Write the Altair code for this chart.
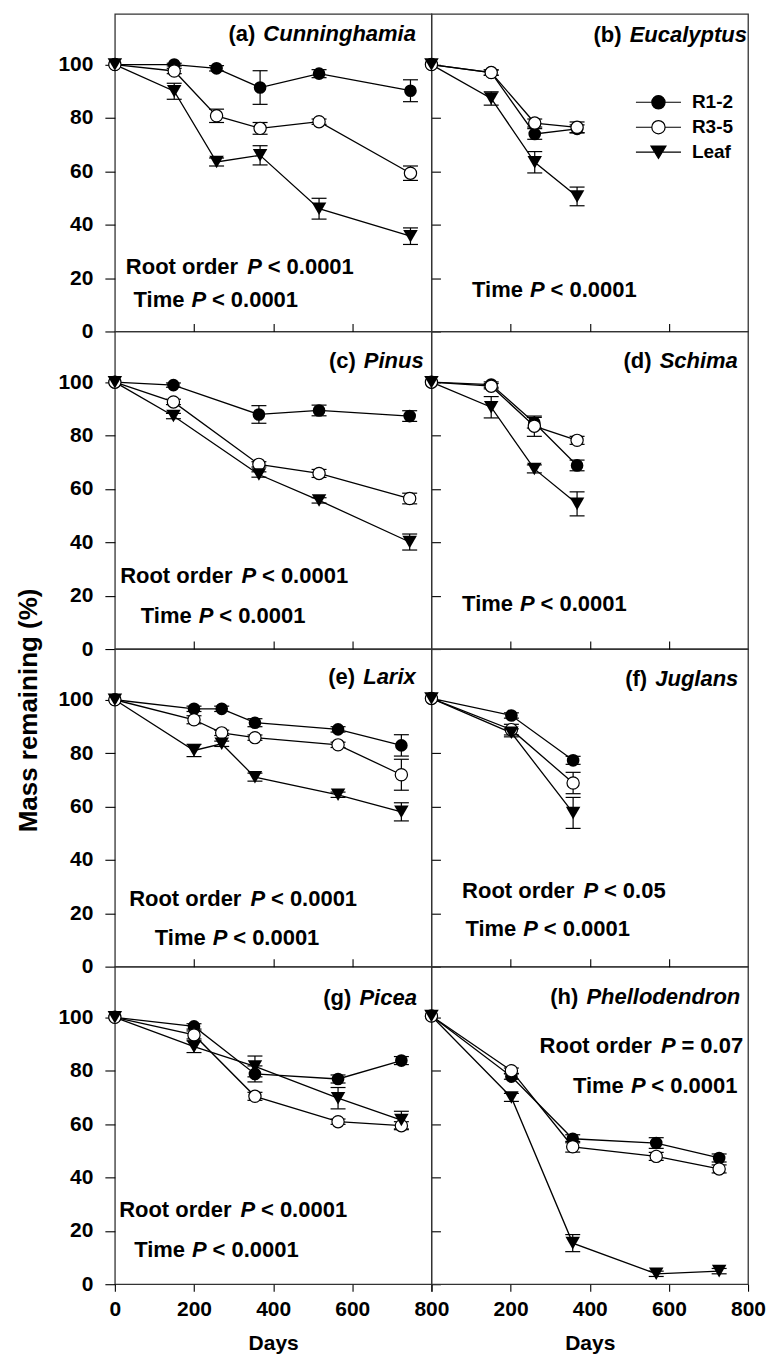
import altair as alt
import pandas as pd

FONT = "Liberation Sans"
SERIES = ["R1-2", "R3-5", "Leaf"]

# ---------------- data: days, mean mass remaining (%), SE ----------------
a_days = [0, 150, 257, 367, 516, 747]
a_r12 = [100, 100, 98.6, 91.4, 96.6, 90.2]
a_r12_se = [0, 0.5, 1.0, 6.3, 1.5, 4.1]
a_r35 = [100, 97.6, 80.8, 76.1, 78.6, 59.3]
a_r35_se = [0, 1.0, 2.5, 2.2, 1.0, 2.7]
a_leaf = [100, 90.0, 63.5, 66.0, 46.0, 35.7]
a_leaf_se = [0, 3.0, 1.5, 3.6, 3.9, 3.1]

b_days = [0, 151, 261, 368]
b_r12 = [100, 97.0, 74.0, 75.9]
b_r12_se = [0, 1.0, 2.0, 1.5]
b_r35 = [100, 97.0, 78.1, 76.5]
b_r35_se = [0, 1.0, 1.5, 2.0]
b_leaf = [100, 87.3, 63.4, 50.6]
b_leaf_se = [0, 2.5, 4.0, 3.5]

c_days = [0, 148, 364, 516, 745]
c_r12 = [100, 98.9, 87.9, 89.4, 87.3]
c_r12_se = [0, 0.8, 3.3, 2.0, 2.0]
c_r35 = [100, 92.6, 69.2, 65.8, 56.4]
c_r35_se = [0, 1.0, 1.0, 1.5, 2.0]
c_leaf = [100, 87.3, 65.4, 55.7, 40.1]
c_leaf_se = [0, 1.0, 1.0, 1.0, 3.0]

d_days = [0, 151, 260, 368]
d_r12 = [100, 99.1, 84.8, 68.8]
d_r12_se = [0, 1.0, 2.0, 2.0]
d_r35 = [100, 98.5, 83.5, 78.2]
d_r35_se = [0, 1.0, 3.8, 1.5]
d_leaf = [100, 90.6, 67.5, 54.4]
d_leaf_se = [0, 4.0, 1.5, 4.5]

e_days = [0, 200, 270, 354, 564, 724]
e_r12 = [100, 96.6, 96.6, 91.4, 88.9, 82.9]
e_r12_se = [0, 1.0, 1.0, 1.5, 1.0, 4.0]
e_r35 = [100, 92.5, 87.6, 85.8, 83.1, 71.9]
e_r35_se = [0, 1.5, 1.0, 1.0, 1.0, 5.8]
e_leaf = [100, 81.0, 83.5, 71.0, 64.4, 58.0]
e_leaf_se = [0, 2.3, 1.0, 1.5, 1.0, 3.4]

f_days = [0, 202, 358]
f_r12 = [100.5, 94.1, 77.3]
f_r12_se = [0, 1.0, 1.5]
f_r35 = [100.5, 88.8, 68.8]
f_r35_se = [0, 2.0, 4.0]
f_leaf = [100.5, 87.6, 57.6]
f_leaf_se = [0, 1.5, 5.8]

g_days = [0, 200, 354, 564, 724]
g_r12 = [100, 96.6, 78.8, 76.9, 83.8]
g_r12_se = [0, 1.0, 3.0, 1.5, 1.5]
g_r35 = [100, 93.4, 70.4, 60.9, 59.4]
g_r35_se = [0, 1.5, 1.5, 1.0, 1.5]
g_leaf = [100, 89.0, 81.6, 69.7, 61.5]
g_leaf_se = [0, 2.2, 3.9, 4.0, 3.3]

h_days = [0, 202, 357, 568, 727]
h_r12 = [100.5, 77.8, 54.5, 52.9, 47.3]
h_r12_se = [0, 1.0, 1.5, 2.0, 1.5]
h_r35 = [100.5, 80.0, 51.5, 47.9, 43.2]
h_r35_se = [0, 1.0, 2.0, 1.5, 1.5]
h_leaf = [100.5, 70.0, 15.4, 3.9, 4.9]
h_leaf_se = [0, 1.5, 3.2, 1.0, 1.0]

# ---------------- text ----------------
LETTERS = ["(a)", "(b)", "(c)", "(d)", "(e)", "(f)", "(g)", "(h)"]
SPECIES = ["Cunninghamia", "Eucalyptus", "Pinus", "Schima",
           "Larix", "Juglans", "Picea", "Phellodendron"]
ROOT_P = ["< 0.0001", None, "< 0.0001", None, "< 0.0001", "< 0.05", "< 0.0001", "= 0.07"]
TIME_P = ["< 0.0001"] * 8
X_TICKS = [0, 200, 400, 600, 800]
X_INNER = [200, 400, 600]
Y_TICKS = [0, 20, 40, 60, 80, 100]

# ---------------- layout (panel-relative pixels) ----------------
W, H = 317, 318
TITLE_POS = [(113.7, 27), (162.3, 28), (214.3, 37), (192.3, 37),
             (213.7, 35), (194, 37), (208.7, 38), (119, 37)]
ROOT_POS = [(11, 260.7), None, (5.3, 251.7), None,
            (14.3, 257.7), (30.7, 249.3), (4.3, 251), (108.3, 86)]
TIME_POS = [(18.7, 294), (40.7, 283), (26, 291.7), (30.7, 280),
            (40, 296), (34, 287), (19.3, 290.3), (141.7, 127)]
# bold glyph advance widths (em) used to space "(x) " before the species name
LETTER_EM = {"a": 0.556, "b": 0.611, "c": 0.556, "d": 0.611,
             "e": 0.556, "f": 0.333, "g": 0.611, "h": 0.611}

XS = alt.Scale(domain=[0, 800], nice=False, zero=False)
YS = alt.Scale(domain=[0, 119], nice=False, zero=False)


def make_df(days, r12, r12se, r35, r35se, leaf, leafse):
    rows = []
    for s, vals, ses in zip(SERIES, [r12, r35, leaf], [r12se, r35se, leafse]):
        for d, v, e in zip(days, vals, ses):
            rows.append({"day": d, "series": s, "val": v, "lo": v - e, "hi": v + e, "se": e})
    return pd.DataFrame(rows)


DFS = [
    make_df(a_days, a_r12, a_r12_se, a_r35, a_r35_se, a_leaf, a_leaf_se),
    make_df(b_days, b_r12, b_r12_se, b_r35, b_r35_se, b_leaf, b_leaf_se),
    make_df(c_days, c_r12, c_r12_se, c_r35, c_r35_se, c_leaf, c_leaf_se),
    make_df(d_days, d_r12, d_r12_se, d_r35, d_r35_se, d_leaf, d_leaf_se),
    make_df(e_days, e_r12, e_r12_se, e_r35, e_r35_se, e_leaf, e_leaf_se),
    make_df(f_days, f_r12, f_r12_se, f_r35, f_r35_se, f_leaf, f_leaf_se),
    make_df(g_days, g_r12, g_r12_se, g_r35, g_r35_se, g_leaf, g_leaf_se),
    make_df(h_days, h_r12, h_r12_se, h_r35, h_r35_se, h_leaf, h_leaf_se),
]


def X(field, axis):
    return alt.X(field, type="quantitative", scale=XS, axis=axis)


def Y(field, axis):
    return alt.Y(field, type="quantitative", scale=YS, axis=axis)


def txt(s, x, y, italic=False, size=22, align="left"):
    return alt.Chart(pd.DataFrame({"t": [s]})).mark_text(
        align=align, baseline="alphabetic", font=FONT, fontSize=size,
        fontWeight="bold", fontStyle="italic" if italic else "normal", color="black"
    ).encode(x=alt.value(x), y=alt.value(y), text="t:N")


CIRCLE_PATH = ("M-4.1,0L-1.21,0M1.21,0L4.1,0M1.21,0"
               "A1.21,1.21,0,1,1,-1.21,0A1.21,1.21,0,1,1,1.21,0Z")
TRI_PATH = "M-4.1,0L4.1,0M0,1.12L1.36,-1.12L-1.36,-1.12Z"


def panel(i):
    col, row = i % 2, i // 2
    left = col == 0
    bottom = row == 3
    df = DFS[i]
    base = alt.Chart(df)

    top_axis = alt.Axis(orient="top", values=X_INNER, tickSize=8, labels=False, title=None)
    if bottom:
        kw = dict(orient="bottom", values=X_TICKS, tickSize=7, labelPadding=7,
                  title="Days", titleY=65, titleBaseline="alphabetic")
        if not left:
            kw["labelExpr"] = "datum.value == 0 ? '' : datum.label"
        x1 = alt.Axis(**kw)
        x2 = top_axis
    elif row > 0:
        x1 = top_axis
        x2 = None
    else:
        x1 = None
        x2 = None

    if left:
        kw = dict(orient="left", values=Y_TICKS, tickSize=10, labelPadding=12, title=None)
        if i == 4:
            kw.update(title="Mass remaining (%)", titleX=-86, titleY=61, titleAngle=270,
                      titleBaseline="middle", titleAlign="center", titleFontSize=26)
        y1 = alt.Axis(**kw)
        y2 = alt.Axis(orient="right", values=Y_TICKS, tickSize=9, labels=False, title=None)
    else:
        y1 = None
        y2 = None

    line = base.mark_line(color="black", strokeWidth=1.3).encode(
        x=X("day", x1), y=Y("val", y1), detail="series:N")
    err = base.transform_filter("datum.se > 0")
    rule = err.mark_rule(color="black", strokeWidth=1.2).encode(
        x=X("day", x2), y=Y("lo", y2), y2="hi:Q")
    cap_lo = err.mark_tick(orient="horizontal", size=15, thickness=1.2, color="black",
                           opacity=1).encode(x=X("day", None), y=Y("lo", None))
    cap_hi = err.mark_tick(orient="horizontal", size=15, thickness=1.2, color="black",
                           opacity=1).encode(x=X("day", None), y=Y("hi", None))
    p12 = base.transform_filter("datum.series == 'R1-2'").mark_point(
        shape="circle", filled=True, color="black", size=160, opacity=1
    ).encode(x=X("day", None), y=Y("val", None))
    p35 = base.transform_filter("datum.series == 'R3-5'").mark_point(
        shape="circle", filled=True, fill="white", stroke="black", strokeWidth=1.2,
        size=150, opacity=1
    ).encode(x=X("day", None), y=Y("val", None))
    pleaf = base.transform_filter("datum.series == 'Leaf'").mark_point(
        shape="triangle-down", filled=True, color="black", size=210, opacity=1
    ).encode(x=X("day", None), y=Y("val", None))

    layers = [line, rule, cap_lo, cap_hi, p12, p35, pleaf]

    tx, ty = TITLE_POS[i]
    letter = LETTERS[i]
    gap = (0.333 * 2 + LETTER_EM[letter[1]] + 0.278) * 22 + 2
    layers.append(txt(letter, tx, ty))
    layers.append(txt(SPECIES[i], tx + gap, ty, italic=True))

    if ROOT_P[i] is not None:
        rx, ry = ROOT_POS[i]
        layers.append(txt("Root order", rx, ry))
        layers.append(txt("P", rx + 121.5, ry, italic=True))
        layers.append(txt(ROOT_P[i], rx + 142, ry))
    mx, my = TIME_POS[i]
    layers.append(txt("Time", mx, my))
    layers.append(txt("P", mx + 58, my, italic=True))
    layers.append(txt(TIME_P[i], mx + 78.5, my))

    if i == 1:
        leg = alt.Legend(orient="none", legendX=217.8, legendY=79, title=None,
                         labelFont=FONT, labelFontSize=19, labelFontWeight="bold",
                         labelColor="black", labelOffset=24, symbolSize=121,
                         symbolStrokeWidth=1.2, rowPadding=5, padding=0)
        legend_layer = alt.Chart(pd.DataFrame({"lg": SERIES})).transform_filter(
            "false").mark_point(filled=True, stroke="black", strokeWidth=1.2, opacity=1
        ).encode(
            shape=alt.Shape("lg:N", scale=alt.Scale(domain=SERIES,
                            range=[CIRCLE_PATH, CIRCLE_PATH, TRI_PATH]), legend=leg),
            fill=alt.Fill("lg:N", scale=alt.Scale(domain=SERIES,
                          range=["black", "white", "black"]), legend=leg),
        )
        layers.append(legend_layer)

    return alt.layer(*layers).resolve_axis(x="independent", y="independent").properties(
        width=W, height=H)


panels = [panel(i) for i in range(8)]

chart = alt.concat(*panels, columns=2, spacing=0, bounds="flush").resolve_scale(
    shape="independent", fill="independent"
).properties(
    padding={"left": 7, "top": 4, "right": 5, "bottom": 2}
).configure_view(
    stroke="#333333", strokeWidth=1.3
).configure_axis(
    labelFont=FONT, labelFontSize=21, labelFontWeight="bold", labelColor="black",
    titleFont=FONT, titleFontSize=21, titleFontWeight="bold", titleColor="black",
    tickColor="black", tickWidth=1.1, domain=False, grid=False, labelFlush=False
)

chart.save("out.html", embed_options={"renderer": "svg", "actions": False})
